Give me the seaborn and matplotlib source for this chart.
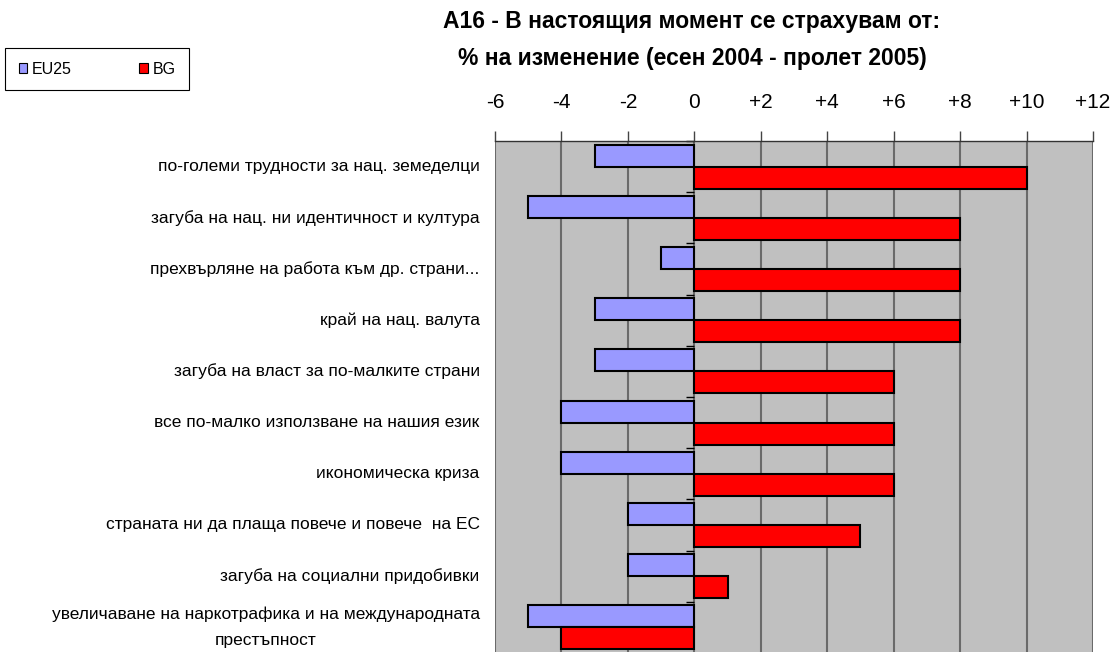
import matplotlib
matplotlib.use('Agg')
import pandas as pd
import seaborn as sns
import matplotlib.pyplot as plt

categories = [
    'по-големи трудности за нац. земеделци',
    'загуба на нац. ни идентичност и култура',
    'прехвърляне на работа към др. страни...',
    'край на нац. валута',
    'загуба на власт за по-малките страни',
    'все по-малко използване на нашия език',
    'икономическа криза',
    'страната ни да плаща повече и повече  на ЕС',
    'загуба на социални придобивки',
    'увеличаване на наркотрафика и на международната\nпрестъпност',
]
eu25 = [-3, -5, -1, -3, -3, -4, -4, -2, -2, -5]
bg = [10, 8, 8, 8, 6, 6, 6, 5, 1, -4]
series = ['EU25', 'BG']
x_ticks = [-6, -4, -2, 0, 2, 4, 6, 8, 10, 12]
x_tick_labels = ['-6', '-4', '-2', '0', '+2', '+4', '+6', '+8', '+10', '+12']

df = pd.DataFrame({
    'category': categories * 2,
    'series': ['EU25'] * len(eu25) + ['BG'] * len(bg),
    'value': eu25 + bg,
})

sns.set_theme(style='white', rc={'text.color': 'black', 'axes.labelcolor': 'black',
                                 'xtick.color': 'black', 'ytick.color': 'black'})
plt.rcParams['font.family'] = ['Liberation Sans', 'DejaVu Sans']

fig = plt.figure(figsize=(11.13, 6.52), dpi=100)
ax = fig.add_axes([495 / 1113, -1 / 652, 598 / 1113, 512 / 652])
sns.barplot(data=df, x='value', y='category', hue='series', order=categories,
            hue_order=series, palette=['#9999FF', '#FF0000'], orient='h',
            width=0.86, edgecolor='black', linewidth=1.5, saturation=1, ax=ax)

ax.set_facecolor('#C0C0C0')
ax.set_xlim(-6, 12)
ax.xaxis.tick_top()
ax.set_xticks(x_ticks, x_tick_labels)
ax.grid(axis='x', color='#6a6a6a', lw=1.5)
ax.grid(axis='y', visible=False)
ax.set_axisbelow(True)
ax.tick_params(axis='x', top=True, bottom=False, length=7, width=1,
               color='#444444', labelcolor='black', pad=14, labelsize=15)
ax.set_xlabel('')
ax.set_ylabel('')

# small boundary ticks on the zero line (right spine moved to x=0)
ax.spines['right'].set_position(('data', 0))
ax.spines['right'].set_visible(False)
for s in ['left', 'bottom']:
    ax.spines[s].set_visible(False)
ax.spines['top'].set_color('#333333')
ax.spines['top'].set_linewidth(1)
ax.set_yticks([i + 0.5 for i in range(-1, len(categories))], minor=True)
ax.tick_params(axis='y', which='minor', left=False, right=True,
               direction='in', length=6, width=1, color='black')

# category labels on the left (set after the spine move, which resets ticks)
ax.tick_params(axis='y', which='major', left=True, right=False, length=0,
               pad=11, labelsize=12.5, labelcolor='black')
ax.set_yticks(range(len(categories)), categories, verticalalignment='center',
              multialignment='center', linespacing=1.9)

handles, labels = ax.get_legend_handles_labels()
ax.get_legend().remove()
for h in handles:
    h.set_linewidth(0.8)
leg = fig.legend(handles, labels, loc='upper left',
                 bbox_to_anchor=(5 / 1113, 1 - 48 / 652), borderaxespad=0,
                 ncol=2, frameon=True, fancybox=False, edgecolor='black',
                 framealpha=1, fontsize=11.5, handlelength=0.55,
                 handleheight=0.55, columnspacing=4.2, borderpad=0.85,
                 handletextpad=0.3)
leg.get_frame().set_linewidth(0.8)

fig.text(692 / 1113, 1 - 28 / 652, 'А16 - В настоящия момент се страхувам от:',
         ha='center', va='baseline', fontsize=16.5, weight='bold')
fig.text(692 / 1113, 1 - 65 / 652, '% на изменение (есен 2004 - пролет 2005)',
         ha='center', va='baseline', fontsize=16.5, weight='bold')

fig.savefig('out.png', dpi=100)
